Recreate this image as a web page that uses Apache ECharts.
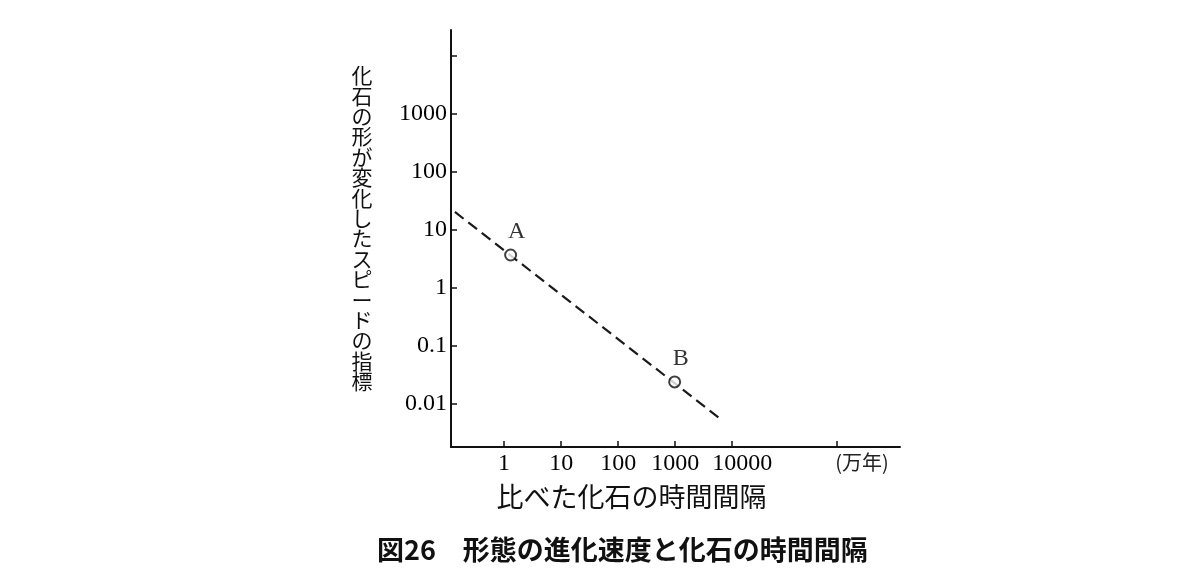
<!DOCTYPE html>
<html><head><meta charset="utf-8">
<script src="https://cdn.jsdelivr.net/npm/echarts@6.0.0/dist/echarts.min.js"></script>
<style>html,body{margin:0;padding:0;background:#fff}#c{width:1200px;height:570px}</style>
</head><body><div id="c"></div>
<script>
const pointNames = ['A', 'B'];
const pointX = [1.3, 980];
const pointY = [3.7, 0.024];
const trendX = [0.137, 6900];
const trendY = [20.4, 0.0051];
const xTickValues = [1, 10, 100, 1000, 10000, 680000];
const xLabelValues = [1, 10, 100, 1000, 10000, 1900000];
const xLabelTexts = ['1', '10', '100', '1000', '10000', '(万年)'];
const yTickValues = [0.01, 0.1, 1, 10, 100, 1000, 10000];
const yLabelValues = [0.01, 0.1, 1, 10, 100, 1000];
const yLabelTexts = ['0.01', '0.1', '1', '10', '100', '1000'];
const xName = '比べた化石の時間間隔';
const yName = '化石の形が変化したスピードの指標';
const titleText = '図26　形態の進化速度と化石の時間間隔';

function pick(vals, texts, v) {
  let best = 0, d = Infinity;
  vals.forEach((x, i) => { const dd = Math.abs(Math.log10(x) - Math.log10(v)); if (dd < d) { d = dd; best = i; } });
  return texts[best];
}
const serif = '"Liberation Serif", "Noto Sans CJK JP", serif';
const chart = echarts.init(document.getElementById('c'));
chart.setOption({
  backgroundColor: '#fff',
  animation: false,
  title: {
    text: titleText, left: 372, top: 531,
    textStyle: { fontFamily: '"Noto Sans CJK JP"', fontWeight: 'bold', fontSize: 27, color: '#111' }
  },
  grid: { left: 451, top: 30, width: 449, height: 417, containLabel: false, outerBoundsMode: 'none' },
  xAxis: {
    type: 'log', min: 0.117, max: 8.8e6,
    axisLine: { lineStyle: { color: '#111', width: 2 } },
    axisTick: { inside: true, length: 6, customValues: xTickValues, lineStyle: { color: '#111', width: 1.5 } },
    axisLabel: {
      customValues: xLabelValues, margin: 5, color: '#000', fontFamily: serif, fontSize: 24,
      formatter: v => {
        const t = pick(xLabelValues, xLabelTexts, v);
        if (t.indexOf('万') >= 0) return '{u|' + t + '}';
        if (t === '10000') return '{r|' + t + '}';
        return t;
      },
      rich: {
        u: { fontSize: 20, fontFamily: '"Noto Sans CJK JP"', color: '#222' },
        r: { fontSize: 24, fontFamily: serif, color: '#000', padding: [0, 0, 0, 20] }
      }
    },
    splitLine: { show: false }, minorTick: { show: false },
    name: xName, nameLocation: 'middle', nameGap: 50,
    nameTextStyle: { fontFamily: '"Noto Sans CJK JP"', fontSize: 27, color: '#111', align: 'center', verticalAlign: 'middle', padding: [0, 88, 0, 0] }
  },
  yAxis: {
    type: 'log', min: 0.00181, max: 28000,
    axisLine: { lineStyle: { color: '#111', width: 2 } },
    axisTick: { inside: true, length: 6, customValues: yTickValues, lineStyle: { color: '#111', width: 1.5 } },
    axisLabel: {
      customValues: yLabelValues, margin: 4, color: '#000', fontFamily: serif, fontSize: 24,
      formatter: v => pick(yLabelValues, yLabelTexts, v)
    },
    splitLine: { show: false }, minorTick: { show: false },
    name: yName.split('').join('\n') + '\n', nameLocation: 'middle', nameGap: 89, nameRotate: 0,
    nameTextStyle: { fontFamily: '"Noto Sans CJK JP"', fontSize: 21, lineHeight: 20.4, color: '#111', align: 'center', verticalAlign: 'middle' }
  },
  series: [
    {
      type: 'line', data: trendX.map((x, i) => [x, trendY[i]]), showSymbol: false, symbol: 'none',
      lineStyle: { color: '#1a1a1a', width: 2.2, type: [11, 6] }, silent: true, z: 2
    },
    {
      type: 'scatter', data: pointNames.map((n, i) => ({ name: n, value: [pointX[i], pointY[i]] })),
      symbol: 'circle', symbolSize: 11,
      itemStyle: { color: '#fff', borderColor: '#111', borderWidth: 2 },
      label: { show: true, formatter: '{b}', position: 'top', distance: 5, offset: [6, 0], fontFamily: serif, fontSize: 24, color: '#000' },
      z: 3
    }
  ]
});
</script></body></html>
